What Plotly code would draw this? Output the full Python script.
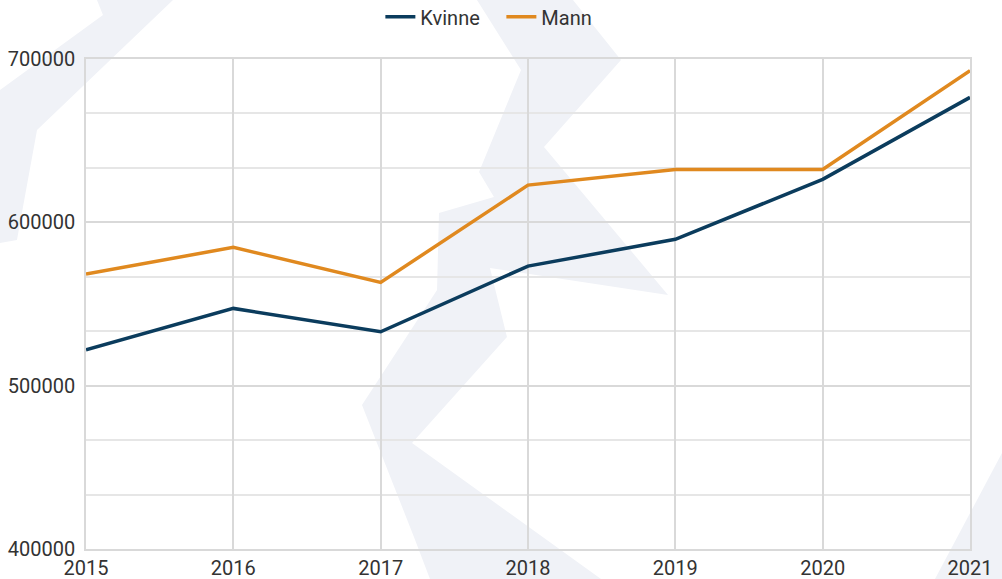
import plotly.graph_objects as go

years = [2015, 2016, 2017, 2018, 2019, 2020, 2021]
kvinne = [522000, 547300, 533000, 573200, 589600, 626300, 676500]
mann = [568300, 584700, 563200, 622800, 632400, 632400, 692900]
y_ticks = [400000, 500000, 600000, 700000]
y_ticklabels = ["400000", "500000", "600000", "700000"]

KVINNE_COLOR = "#0b3c5d"
MANN_COLOR = "#e0891f"
GRID = "#d9d9d9"
WM = "#f0f2f7"

W, H = 1002, 579
ML, MR, MT, MB = 86, 32, 59, 30
PW, PH = W - ML - MR, H - MT - MB


def wm_path(points):
    pts = [((x - ML) / PW, (H - MB - y) / PH) for x, y in points]
    return "M " + " L ".join(f"{px:.4f},{py:.4f}" for px, py in pts) + " Z"


watermarks = [
    [(97, 0), (103, 15), (0, 90), (0, 243), (17, 240), (37, 130), (173, 0)],
    [(477, 0), (521, 70), (479, 172), (494, 197), (439, 213), (437, 290),
     (362, 405), (414, 537), (430, 579), (601, 579), (412, 443), (507, 337),
     (490, 268), (668, 295), (544, 147), (621, 60), (573, 0)],
    [(1002, 453), (935, 579), (1002, 579)],
]

fig = go.Figure()
fig.add_trace(go.Scatter(x=years, y=kvinne, name="Kvinne", mode="lines",
                         line=dict(color=KVINNE_COLOR, width=3.5)))
fig.add_trace(go.Scatter(x=years, y=mann, name="Mann", mode="lines",
                         line=dict(color=MANN_COLOR, width=3.5)))

for poly in watermarks:
    fig.add_shape(type="path", path=wm_path(poly), xref="paper", yref="paper",
                  fillcolor=WM, line=dict(width=0), layer="below")

fig.update_layout(
    width=W, height=H,
    margin=dict(l=ML, r=MR, t=MT, b=MB, autoexpand=False),
    paper_bgcolor="#ffffff",
    plot_bgcolor="rgba(0,0,0,0)",
    font=dict(family="Roboto", size=20, color="#333333"),
    showlegend=True,
    legend=dict(orientation="h", x=0.333, xanchor="left", y=1.086, yanchor="middle",
                entrywidth=76, entrywidthmode="pixels",
                font=dict(size=20, color="#333333"), bgcolor="rgba(0,0,0,0)"),
    xaxis=dict(range=[2015, 2021], tickvals=years, ticktext=[str(y) for y in years],
               showgrid=True, gridcolor=GRID, gridwidth=1.5, zeroline=False,
               showline=True, linecolor=GRID, linewidth=1.5, mirror=True,
               ticks="", ticklabelstandoff=0),
    yaxis=dict(range=[400000, 700000], tickvals=y_ticks, ticktext=y_ticklabels,
               showgrid=True, gridcolor=GRID, gridwidth=1.5, zeroline=False,
               showline=True, linecolor=GRID, linewidth=1.5, mirror=True,
               ticks="", ticklabelstandoff=5,
               minor=dict(dtick=100000 / 3, tick0=400000, showgrid=True,
                          gridcolor="#e6e6e6", gridwidth=1.5)),
)

fig.write_html("out.html", config={"displayModeBar": False},
               post_script="document.body.style.margin='0';document.body.style.overflow='hidden';")
